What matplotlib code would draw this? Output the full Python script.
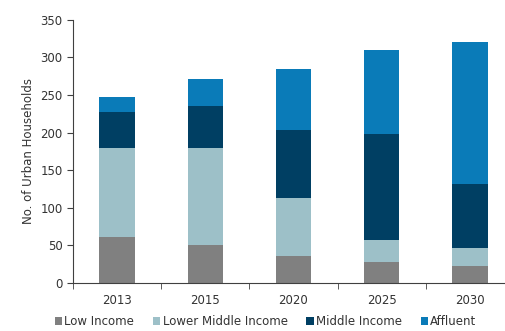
import matplotlib
matplotlib.use("Agg")
import matplotlib.pyplot as plt
import numpy as np

years = ["2013", "2015", "2020", "2025", "2030"]
low_income = [61, 50, 36, 28, 23]
lower_middle = [118, 129, 77, 29, 24]
middle_income = [49, 57, 91, 141, 85]
affluent = [20, 36, 81, 112, 189]

series = [
    ("Low Income", low_income, "#808080"),
    ("Lower Middle Income", lower_middle, "#9dc0c8"),
    ("Middle Income", middle_income, "#003f63"),
    ("Affluent", affluent, "#0a7bb8"),
]

plt.rcParams['font.family'] = ['DejaVu Sans']
fig = plt.figure(figsize=(5.06, 3.31), dpi=100)
ax = fig.add_axes([0.144, 0.145, 0.872, 0.795])

x = np.arange(len(years))
bottom = np.zeros(len(years))
for name, vals, color in series:
    ax.bar(x, vals, width=0.4, bottom=bottom, color=color, label=name)
    bottom += np.array(vals)

ax.set_xlim(-0.5, 4.5)
ax.set_ylim(0, 350)
ax.set_yticks(range(0, 351, 50))
ax.set_xticks(x)
ax.set_xticklabels(years)
ax.set_xticks(np.arange(-0.5, 4.6, 1), minor=True)
ax.tick_params(axis='x', which='major', length=0, pad=8)
ax.tick_params(axis='x', which='minor', length=4, color='#404040')
ax.tick_params(axis='y', length=4, color='#404040')
ax.tick_params(labelsize=8.5, labelcolor='#333333')
for s in ['top', 'right']:
    ax.spines[s].set_visible(False)
for s in ['left', 'bottom']:
    ax.spines[s].set_color('#404040')
ax.set_ylabel("No. of Urban Households", fontsize=8.5, color='#333333')

ax.legend(loc='upper center', bbox_to_anchor=(0.437, -0.09), ncol=4, frameon=False,
          fontsize=8.5, handlelength=0.6, handleheight=0.6, handletextpad=0.2,
          columnspacing=1.6, labelcolor='#333333', borderaxespad=0.3)

fig.savefig("out.png", dpi=100)
